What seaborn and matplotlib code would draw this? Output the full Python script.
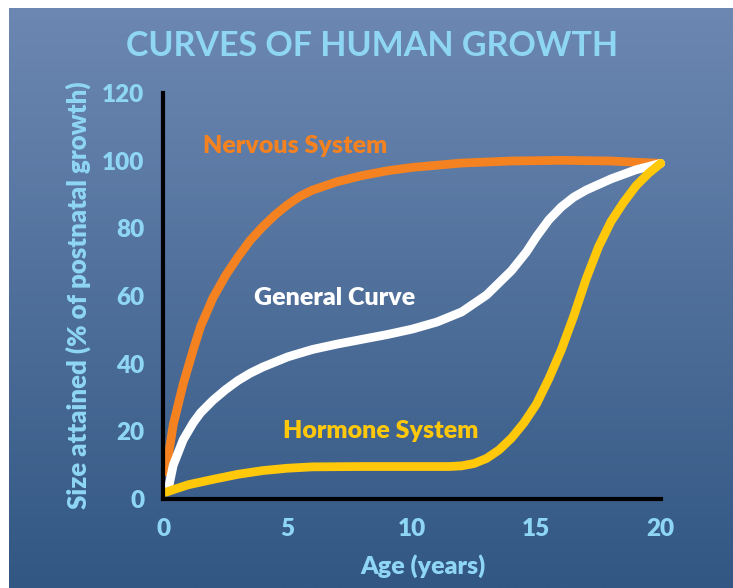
import numpy as np
import pandas as pd
import matplotlib
matplotlib.use("Agg")
import matplotlib.pyplot as plt
import seaborn as sns
from matplotlib.colors import LinearSegmentedColormap

# ---- data ----
nervous_age = [0.1, 0.4, 0.8, 1.2, 1.5, 2.0, 2.5, 3.0, 3.5, 4.0, 4.5, 5.0, 5.5, 6.0, 7.0, 8.0,
               9.0, 10.0, 12.0, 14.0, 16.0, 18.0, 20.0]
nervous_val = [8, 22, 34, 44, 51, 59.5, 66, 71.5, 76.5, 80.5, 84, 87, 89.5, 91.3, 93.8, 95.6,
               97, 98, 99.3, 99.9, 100.1, 99.9, 99.2]

general_age = [0.2, 0.4, 0.8, 1.2, 1.5, 2.0, 2.5, 3.0, 3.5, 4.0, 5.0, 6.0, 7.0, 8.0, 9.0,
               10.0, 11.0, 12.0, 13.0, 14.0, 14.6, 15.0, 15.5, 16.0, 16.5, 17.0, 18.0, 19.0, 20.0]
general_val = [3, 10, 17.5, 22.5, 25.5, 29.2, 32.3, 35, 37.2, 39, 42, 44.2, 45.8, 47.2, 48.6,
               50.2, 52.3, 55.3, 60.3, 67.5, 73, 77.5, 82.5, 86.3, 89.2, 91.3, 94.6, 97.3, 99.2]

hormone_age = [0.1, 0.5, 1.0, 2.0, 3.0, 4.0, 5.0, 6.0, 8.0, 10.0, 11.5, 12.0, 12.5, 13.0,
               13.5, 14.0, 14.5, 15.0, 15.5, 16.0, 16.5, 17.0, 17.5, 18.0, 18.5, 19.0, 19.5, 20.0]
hormone_val = [2, 3, 4.2, 5.8, 7.3, 8.4, 9.1, 9.5, 9.6, 9.6, 9.6, 9.8, 10.5, 12,
               14.5, 18, 22.5, 28, 35.5, 44, 54, 65, 74.5, 82, 87.6, 92.5, 96.2, 99.2]

series_names = ["Nervous System", "General Curve", "Hormone System"]
x_ticks = [0, 5, 10, 15, 20]
y_ticks = [0, 20, 40, 60, 80, 100, 120]

df = pd.concat([
    pd.DataFrame({"age": nervous_age, "value": nervous_val, "system": series_names[0]}),
    pd.DataFrame({"age": general_age, "value": general_val, "system": series_names[1]}),
    pd.DataFrame({"age": hormone_age, "value": hormone_val, "system": series_names[2]}),
], ignore_index=True)

# ---- style ----
sns.set_theme(style="white")
FONT = ["Lato", "DejaVu Sans"]
plt.rcParams["font.family"] = FONT

ORANGE = "#F58220"
WHITE = "#FFFFFF"
YELLOW = "#FFC80A"
LIGHT = "#8FD6F5"
palette = {series_names[0]: ORANGE, series_names[1]: WHITE, series_names[2]: YELLOW}

W, H = 733, 588
fig = plt.figure(figsize=(W / 100, H / 100), dpi=100)
fig.patch.set_facecolor("white")

# gradient background panel
bg = fig.add_axes([9 / W, 0, 1 - 9 / W, 1 - 8 / H], zorder=0)
cmap = LinearSegmentedColormap.from_list("bg", ["#6C88B2", "#325783"])
grad = np.linspace(0, 1, 256).reshape(-1, 1)
bg.imshow(grad, aspect="auto", cmap=cmap, extent=[0, 1, 0, 1], origin="upper")
bg.set_axis_off()

# main axes
x0, x1 = 163.3, 660.7
y0, y1 = 499.0, 93.0
ax = fig.add_axes([x0 / W, 1 - y0 / H, (x1 - x0) / W, (y0 - y1) / H], zorder=1)
ax.set_facecolor("none")

sns.lineplot(data=df, x="age", y="value", hue="system", palette=palette,
             hue_order=series_names, sort=False, estimator=None,
             linewidth=6.3, legend=False, ax=ax)
for ln in ax.get_lines():
    ln.set_solid_capstyle("round")
    ln.set_solid_joinstyle("round")
    ln.set_clip_on(False)

ax.set_xlim(0, 20)
ax.set_ylim(0, 120)
ax.set_xticks(x_ticks)
ax.set_yticks(y_ticks)
ax.set_xticklabels([str(t) for t in x_ticks])
ax.set_yticklabels([str(t) for t in y_ticks])

for side in ["top", "right"]:
    ax.spines[side].set_visible(False)
for side in ["left", "bottom"]:
    ax.spines[side].set_color("black")
    ax.spines[side].set_linewidth(3.0)

ax.tick_params(axis="both", direction="out", length=5.5, width=2.0, color="black",
               labelcolor=LIGHT, labelsize=17.5)
ax.tick_params(axis="x", pad=8)
ax.tick_params(axis="y", pad=8)
for lab in ax.get_xticklabels() + ax.get_yticklabels():
    lab.set_fontweight("heavy")

ax.set_xlabel("Age (years)", color=LIGHT, fontsize=18, fontweight="heavy")
ax.xaxis.set_label_coords(0.523, -0.1847)
ax.xaxis.label.set_va("baseline")
ax.set_ylabel("Size attained (% of postnatal growth)", color=LIGHT, fontsize=18.5,
              fontweight="heavy")
ax.yaxis.set_label_coords(-0.1715, 0.5025)
ax.yaxis.label.set_va("center")

ax.text(1.58, 102.4, "Nervous System", color=ORANGE, fontsize=18, fontweight="heavy",
        va="baseline", ha="left")
ax.text(3.65, 57.3, "General Curve", color=WHITE, fontsize=18, fontweight="heavy",
        va="baseline", ha="left")
ax.text(4.83, 17.9, "Hormone System", color=YELLOW, fontsize=18, fontweight="heavy",
        va="baseline", ha="left")

fig.text(372.5 / W, 1 - 56 / H, "CURVES OF HUMAN GROWTH", color=LIGHT, fontsize=24.5,
         fontweight="bold", ha="center", va="baseline")

fig.savefig("out.png", dpi=100)
